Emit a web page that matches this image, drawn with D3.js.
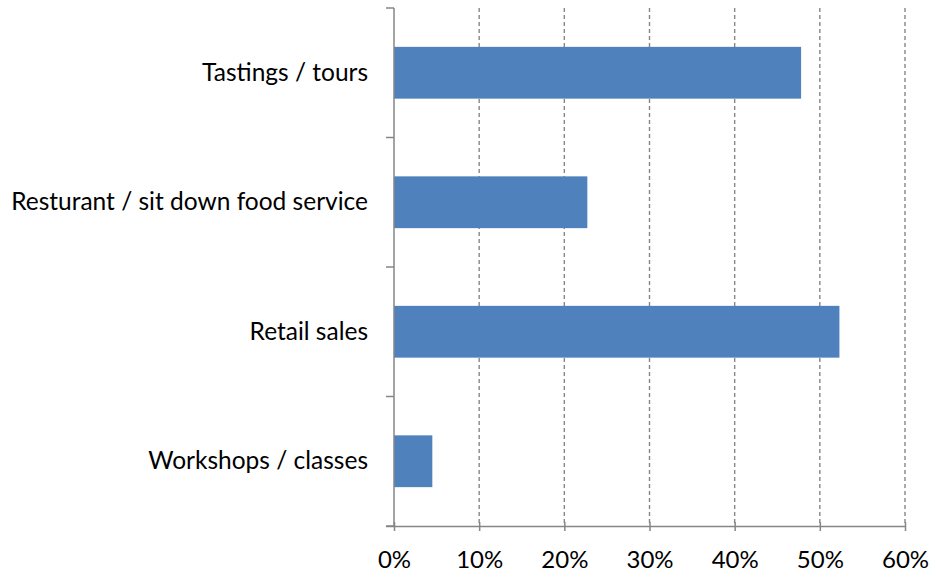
<!DOCTYPE html>
<html>
<head>
<meta charset="utf-8">
<script src="https://cdn.jsdelivr.net/npm/d3@7"></script>
<style>
  html, body { margin: 0; padding: 0; background: #fff; }
  svg { display: block; }
  text { font-family: Lato, "Open Sans", sans-serif; fill: #000; }
</style>
</head>
<body>
<svg id="chart" width="930" height="576"></svg>
<script>
// Share of respondents offering each activity
const categories = ["Tastings / tours", "Resturant / sit down food service", "Retail sales", "Workshops / classes"];
const values = [0.478, 0.227, 0.523, 0.045];
const xTicks = [0, 0.1, 0.2, 0.3, 0.4, 0.5, 0.6];

const svg = d3.select("#chart");
const margin = { left: 394, right: 25, top: 8, bottom: 50 };
const width = 930, height = 576;

const x = d3.scaleLinear().domain([0, 0.6]).range([margin.left, width - margin.right]);
const y = d3.scaleBand().domain(categories)
  .range([margin.top, height - margin.bottom])
  .paddingInner(0.6).paddingOuter(0.3);

const axisColor = "#868686";

// vertical dashed gridlines
svg.append("g").selectAll("line")
  .data(xTicks.slice(1))
  .join("line")
  .attr("x1", d => x(d)).attr("x2", d => x(d))
  .attr("y1", margin.top).attr("y2", height - margin.bottom)
  .attr("stroke", axisColor)
  .attr("stroke-width", 1.4)
  .attr("stroke-dasharray", "4,3");

// bars
svg.append("g").selectAll("rect")
  .data(categories)
  .join("rect")
  .attr("x", x(0))
  .attr("y", d => y(d))
  .attr("width", (d, i) => x(values[i]) - x(0))
  .attr("height", y.bandwidth())
  .attr("fill", "#4F81BD");

// x axis with ticks crossing the baseline
const xAxis = d3.axisBottom(x)
  .tickValues(xTicks)
  .tickFormat(d3.format(".0%"))
  .tickSize(5)
  .tickPadding(20);
const gx = svg.append("g")
  .attr("transform", `translate(0,${height - margin.bottom})`)
  .call(xAxis);
gx.select(".domain").attr("stroke", axisColor).attr("stroke-width", 1.5)
  .attr("d", `M${x(0) - 8},0.5H${x(0.6)}`);
gx.selectAll(".tick line").attr("stroke", axisColor).attr("stroke-width", 1.5)
  .attr("y1", -4);
gx.selectAll(".tick text").style("font-size", "24px").attr("fill", "#000")
  .attr("font-family", null);

// y axis: category boundaries with outward ticks
const bandEdges = d3.range(categories.length + 1).map(i =>
  margin.top + i * (height - margin.bottom - margin.top) / categories.length);
const gy = svg.append("g");
gy.append("line")
  .attr("x1", x(0)).attr("x2", x(0))
  .attr("y1", margin.top).attr("y2", height - margin.bottom)
  .attr("stroke", axisColor).attr("stroke-width", 1.5);
gy.selectAll("line.tk")
  .data(bandEdges)
  .join("line")
  .attr("class", "tk")
  .attr("x1", x(0) - 8).attr("x2", x(0))
  .attr("y1", d => d).attr("y2", d => d)
  .attr("stroke", axisColor).attr("stroke-width", 1.5);

// category labels
const yAxis = d3.axisLeft(y).tickSize(0).tickPadding(26);
const gl = svg.append("g").attr("transform", `translate(${x(0)},0)`).call(yAxis);
gl.select(".domain").remove();
gl.selectAll(".tick text").style("font-size", "24.5px").attr("fill", "#000")
  .attr("font-family", null);
</script>
</body>
</html>
